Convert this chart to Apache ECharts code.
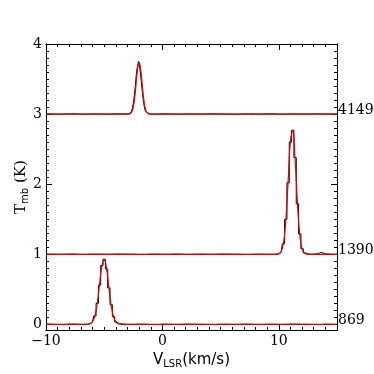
<!DOCTYPE html>
<html>
<head>
<meta charset="utf-8">
<script src="https://cdn.jsdelivr.net/npm/echarts@6/dist/echarts.min.js"></script>
<style>
  html, body { margin: 0; padding: 0; background: #fff; }
  #chart { width: 374px; height: 374px; }
</style>
</head>
<body>
<div id="chart"></div>
<script>
// spectra: velocity (km/s) and Tmb (K), offsets stacked vertically
const names = ["869", "1390", "4149"];
const offsets = [0, 1, 3];

// 869 (offset 0)
const vA = [-10, -9, -8, -7, -6.6, -6.4, -6.2, -6.0, -5.8, -5.6, -5.4, -5.2, -5.0, -4.8, -4.6, -4.4, -4.2, -4.0, -3.8, -3.6, -3, -2, -1, 0, 1, 2, 3, 4, 5, 6, 7, 8, 9, 10, 11, 12, 13, 14, 15];
const tA = [0.003, -0.002, 0.004, 0.0, 0.003, 0.004, 0.012, 0.04, 0.12, 0.30, 0.56, 0.84, 0.93, 0.79, 0.52, 0.28, 0.11, 0.035, 0.01, 0.004, 0.0, 0.003, -0.002, 0.002, 0.0, 0.003, 0.001, -0.002, 0.002, 0.0, 0.003, -0.001, 0.002, 0.0, 0.003, 0.001, -0.002, 0.002, 0.0];
const fvA = [-10, -6.6, -6.4, -6.2, -6.0, -5.8, -5.6, -5.4, -5.2, -5.0, -4.8, -4.6, -4.4, -4.2, -4.0, -3.8, -3.6, -3.4, 15];
const fA = [0, 0, 0.002, 0.01, 0.04, 0.12, 0.30, 0.57, 0.83, 0.92, 0.80, 0.53, 0.27, 0.11, 0.035, 0.009, 0.002, 0, 0];

// 1390 (offset 1)
const vB = [-10, -9, -8, -7, -6, -5, -4, -3, -2, -1, 0, 1, 2, 3, 4, 5, 6, 7, 8, 9, 9.6, 9.8, 10.0, 10.2, 10.4, 10.6, 10.8, 11.0, 11.2, 11.4, 11.6, 11.8, 12.0, 12.2, 12.4, 12.6, 13.0, 13.4, 13.6, 13.8, 14.0, 14.5, 15];
const tB = [0.002, 0.0, 0.003, -0.001, 0.002, 0.0, 0.003, 0.001, -0.002, 0.002, 0.0, 0.003, -0.001, 0.002, 0.0, 0.003, 0.001, -0.002, 0.002, 0.0, 0.0, 0.003, 0.008, 0.03, 0.15, 0.50, 1.02, 1.60, 1.77, 1.38, 0.72, 0.29, 0.08, 0.02, 0.005, 0.0, 0.004, 0.01, 0.025, 0.02, 0.005, 0.0, 0.002];
const fvB = [-10, 9.8, 10.0, 10.2, 10.4, 10.6, 10.8, 11.0, 11.2, 11.4, 11.6, 11.8, 12.0, 12.2, 12.4, 12.6, 15];
const fB = [0, 0, 0.006, 0.036, 0.156, 0.48, 1.04, 1.61, 1.75, 1.35, 0.74, 0.28, 0.078, 0.016, 0.003, 0, 0];

// 4149 (offset 3)
const vC = [-10, -9, -8, -7, -6, -5, -4, -3, -2.9, -2.8, -2.7, -2.6, -2.5, -2.4, -2.3, -2.2, -2.1, -2.0, -1.9, -1.8, -1.7, -1.6, -1.5, -1.4, -1.3, -1.2, -1, 0, 1, 2, 3, 4, 5, 6, 7, 8, 9, 10, 11, 12, 13, 14, 15];
const tC = [0.002, 0.0, 0.003, -0.001, 0.002, 0.0, 0.003, 0.001, 0.002, 0.006, 0.015, 0.045, 0.10, 0.21, 0.36, 0.55, 0.68, 0.75, 0.67, 0.53, 0.36, 0.21, 0.10, 0.04, 0.015, 0.005, 0.0, 0.003, -0.001, 0.002, 0.0, 0.003, 0.001, -0.002, 0.002, 0.0, 0.003, -0.001, 0.002, 0.0, 0.003, 0.001, 0.0];
const fvC = [-10, -2.9, -2.8, -2.7, -2.6, -2.5, -2.4, -2.3, -2.2, -2.1, -2.0, -1.9, -1.8, -1.7, -1.6, -1.5, -1.4, -1.3, -1.2, -1.1, 15];
const fC = [0, 0, 0.006, 0.015, 0.042, 0.10, 0.21, 0.36, 0.54, 0.68, 0.74, 0.68, 0.54, 0.36, 0.21, 0.10, 0.042, 0.015, 0.006, 0, 0];

const xMajor = [-10, 0, 10];
const yMajor = [0, 1, 2, 3, 4];

const xMinor = [];
for (let v = -9; v <= 15; v++) if (xMajor.indexOf(v) < 0) xMinor.push(v);
const yMinor = [];
for (let i = 1; i <= 40; i++) if (i % 10 !== 0) yMinor.push(i / 10);

const chart = echarts.init(document.getElementById("chart"));

function pairs(v, t, off) {
  return v.map((x, i) => [x, t[i] + off]);
}

const serif = "DejaVu Serif";
const sans = "DejaVu Sans";

function xAx(pos, ticks, len, labels, name) {
  return {
    type: "value", min: -10, max: 15, position: pos,
    name: name ? "{a|V}{b|LSR}{a|(km/s)}" : "",
    nameLocation: "middle", nameGap: 21, nameMoveOverlap: false,
    nameTextStyle: {
      rich: {
        a: { fontFamily: sans, fontSize: 15, color: "#000" },
        b: { fontFamily: sans, fontSize: 10, color: "#000", verticalAlign: "bottom", padding: [8, 0, 0, 0] },
      },
    },
    axisLine: { show: true, onZero: false, lineStyle: { color: "#000", width: 1 } },
    axisTick: { show: true, inside: true, length: len, customValues: ticks, lineStyle: { color: "#000", width: 1 } },
    axisLabel: labels
      ? { show: true, customValues: xMajor, margin: 4, fontFamily: serif, fontSize: 14, color: "#000",
          formatter: (v) => (v < 0 ? "\u2212" + Math.abs(v) : String(v)) }
      : { show: false },
    splitLine: { show: false },
  };
}

function yAx(pos, ticks, len, labels, name) {
  return {
    type: "value", min: -0.08, max: 4, position: pos,
    name: name ? "{a|T}{b|mb}{a| (K)}" : "",
    nameLocation: "middle", nameGap: 16, nameRotate: 90, nameMoveOverlap: false,
    nameTextStyle: {
      rich: {
        a: { fontFamily: serif, fontSize: 15, color: "#000" },
        b: { fontFamily: sans, fontSize: 10, color: "#000", verticalAlign: "bottom", padding: [8, 0, 0, 0] },
      },
    },
    axisLine: { show: true, onZero: false, lineStyle: { color: "#000", width: 1 } },
    axisTick: { show: true, inside: true, length: len, customValues: ticks, lineStyle: { color: "#000", width: 1 } },
    axisLabel: labels
      ? { show: true, customValues: yMajor, margin: 4, fontFamily: serif, fontSize: 14, color: "#000" }
      : { show: false },
    splitLine: { show: false },
  };
}

const spectra = [[vA, tA, fvA, fA], [vB, tB, fvB, fB], [vC, tC, fvC, fC]];
const series = [];
spectra.forEach((s, k) => {
  series.push({
    type: "line", step: "middle", showSymbol: false, silent: true,
    data: pairs(s[0], s[1], offsets[k]),
    lineStyle: { color: "#000", width: 1 },
    z: 2,
  });
});
spectra.forEach((s, k) => {
  series.push({
    type: "line", smooth: true, showSymbol: false, silent: true,
    name: names[k],
    data: pairs(s[2], s[3], offsets[k]),
    lineStyle: { color: "#e00000", width: 1.2 },
    z: 3,
    endLabel: {
      show: true, formatter: names[k], distance: 1, offset: [0, -4],
      fontFamily: serif, fontSize: 14, color: "#000",
    },
  });
});

chart.setOption({
  animation: false,
  backgroundColor: "#fff",
  grid: { left: 46, right: 37, top: 44, bottom: 42 },
  xAxis: [
    xAx("bottom", xMajor, 6, true, true),
    xAx("bottom", xMinor, 3, false, false),
    xAx("top", xMajor, 6, false, false),
    xAx("top", xMinor, 3, false, false),
  ],
  yAxis: [
    yAx("left", yMajor, 6, true, true),
    yAx("left", yMinor, 3, false, false),
    yAx("right", yMajor, 6, false, false),
    yAx("right", yMinor, 3, false, false),
  ],
  series: series,
});
</script>
</body>
</html>
